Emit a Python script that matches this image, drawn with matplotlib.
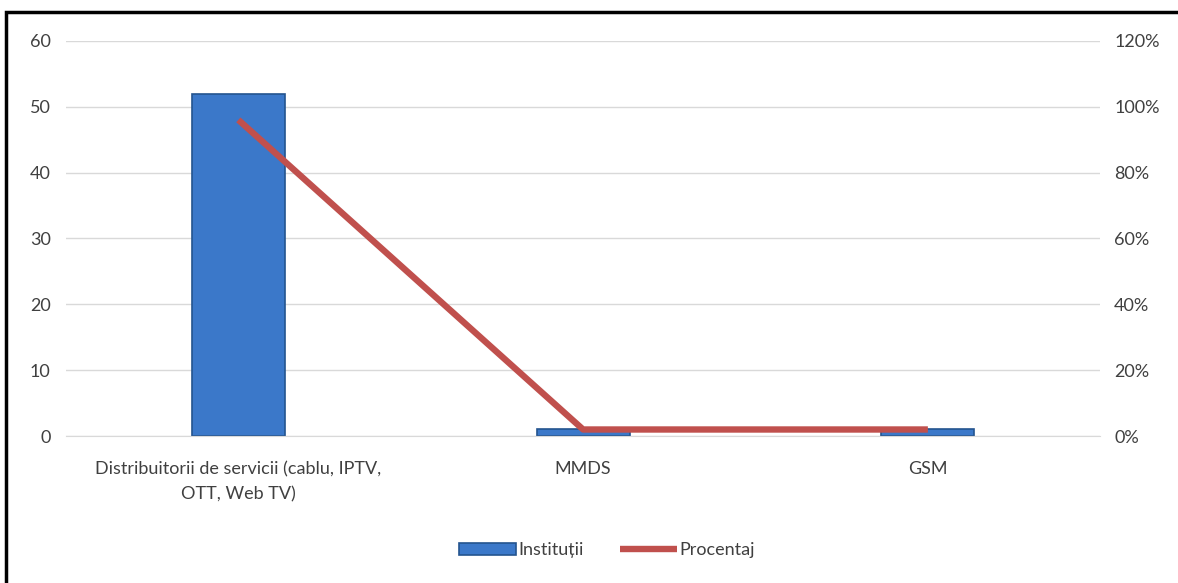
import numpy as np
import matplotlib
matplotlib.use('Agg')
import matplotlib.pyplot as plt
from matplotlib.patches import Rectangle
from matplotlib.ticker import PercentFormatter

categories = ['Distribuitorii de servicii (cablu, IPTV,\nOTT, Web TV)', 'MMDS', 'GSM']
institutii = [52, 1, 1]
procentaj = [0.96, 0.02, 0.02]

plt.rcParams['font.family'] = ['Lato', 'DejaVu Sans']

fig = plt.figure(figsize=(11.78, 5.83), dpi=100)
ax = fig.add_axes([0.056, 0.252, 0.878, 0.678])
ax2 = ax.twinx()

x = np.arange(len(categories))
ax.bar(x, institutii, width=0.27, color='#3b78c9', edgecolor='#24548f', linewidth=1.2,
       label='Instituții', zorder=2)
ax2.plot(x, procentaj, color='#c0504d', linewidth=4.6, solid_capstyle='butt',
         label='Procentaj', zorder=3)

ax.set_xlim(-0.5, 2.5)
ax.set_ylim(0, 60)
ax.set_yticks(range(0, 61, 10))
ax2.set_ylim(0, 1.2)
ax2.set_yticks(np.arange(0, 1.21, 0.2))
ax2.yaxis.set_major_formatter(PercentFormatter(1.0, decimals=0))

ax.set_xticks(x)
ax.set_xticklabels(categories, linespacing=1.7)
ax.grid(axis='y', color='#d9d9d9', linewidth=1, zorder=0)
ax.set_axisbelow(True)
for a in (ax, ax2):
    for s in a.spines.values():
        s.set_visible(False)
    a.tick_params(length=0, labelsize=13, colors='#404040')
ax.tick_params(axis='y', pad=11)
ax2.tick_params(axis='y', pad=10)
ax.tick_params(axis='x', pad=18)
ax.spines['bottom'].set_visible(True)
ax.spines['bottom'].set_color('#d9d9d9')
ax.set_zorder(ax2.get_zorder() - 1)
ax.patch.set_visible(False)

h1, l1 = ax.get_legend_handles_labels()
h2, l2 = ax2.get_legend_handles_labels()
fig.legend(h1 + h2, l1 + l2, loc='center', bbox_to_anchor=(0.515, 0.056), ncol=2,
           frameon=False, fontsize=13, handlelength=3.2, handletextpad=0.1,
           columnspacing=2.0, labelcolor='#404040')

# outer chart frame
fig.patches.append(Rectangle((6 / 1178, -0.1), 1.2, 1 - 12 / 583 + 0.1,
                             transform=fig.transFigure, fill=False,
                             edgecolor='black', linewidth=2.5))

fig.savefig('out.png', dpi=100)
